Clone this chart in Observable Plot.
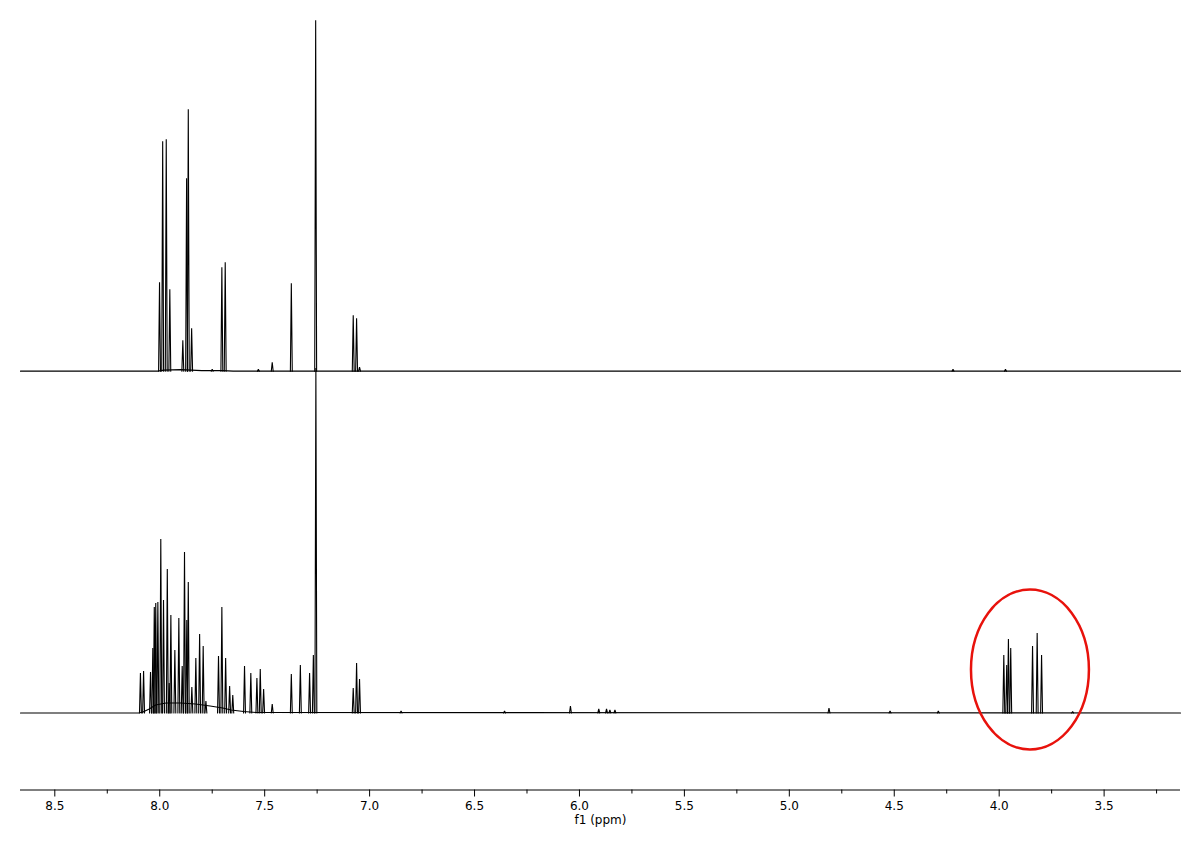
<!DOCTYPE html>
<html>
<head>
<meta charset="utf-8">
<script src="https://cdn.jsdelivr.net/npm/d3@7"></script>
<script src="https://cdn.jsdelivr.net/npm/@observablehq/plot@0.6"></script>
<style>
  body { margin: 0; background: #fff; }
  #chart svg { display: block; }
</style>
</head>
<body>
<div id="chart"></div>
<script>
// ---- Data (ppm, relative intensity) ----
// Upper trace: peak positions and heights
const topPpm    = [8.001, 7.986, 7.969, 7.952, 7.890, 7.872, 7.864, 7.848, 7.750, 7.704, 7.688, 7.530, 7.464, 7.373, 7.257, 7.078, 7.062, 7.048, 4.220, 3.970];
const topHeight = [89,    230,   232,   82,    31,    193,   262,   43,    2,     104,   109,   2,     9,     88,    351,   56,    53,    4,     2,     2];

// Upper trace baseline (slight rise under the aromatic multiplets)
const topBasePpm   = [8.6635, 8.01, 7.98, 7.90, 7.85, 7.80, 7.70, 7.65, 3.136];
const topBaseValue = [0,      0,    1,    1.5,  1,    0.5,  0.5,  0,    0];

// Lower trace: peak positions and heights
const bottomPpm = [8.092, 8.077, 8.044, 8.033, 8.026, 8.019, 8.009, 7.995, 7.982, 7.964, 7.955, 7.947, 7.928, 7.909, 7.893, 7.882, 7.871, 7.864, 7.847, 7.828, 7.810, 7.793, 7.780, 7.720, 7.704, 7.686, 7.667, 7.652, 7.596, 7.566, 7.537, 7.521, 7.505, 7.464, 7.373, 7.330, 7.286, 7.268, 7.256, 7.078, 7.062, 7.048, 6.850, 6.357, 6.043, 5.908, 5.871, 5.855, 5.831, 4.811, 4.520, 4.290, 3.978, 3.964, 3.956, 3.945, 3.841, 3.819, 3.798, 3.650];
const bottomHeight = [40,  42,    41,    65,    106,   110,   111,   174,   113,   144,   30,    98,    63,    95,    47,    161,   93,    131,   26,    55,    79,    67,    12,    57,    106,   55,    27,    18,    47,    40,    35,    44,    24,    9,     39,    48,    40,    58,    345,   25,    50,    34,    2,     2,     7,     4,     4,     3,     3,     5,     2,     2,     58,    48,    74,    65,    67,    80,    58,    1.5];

// Lower trace baseline (hump under the aromatic multiplets)
const bottomBasePpm   = [8.6635, 8.10, 8.08, 8.05, 8.02, 7.97, 7.90, 7.83, 7.76, 7.70, 7.66, 7.60, 7.54, 3.136];
const bottomBaseValue = [0,      0,    1,    4,    8,    10,   10,   9,    7,    5,    3,    1.5,  0.5,  0];

// Axis ticks
const majorTicks = [8.5, 8.0, 7.5, 7.0, 6.5, 6.0, 5.5, 5.0, 4.5, 4.0, 3.5];
const minorTicks = [8.25, 7.75, 7.25, 6.75, 6.25, 5.75, 5.25, 4.75, 4.25, 3.75, 3.25];
const axisLabel = "f1 (ppm)";

// Highlighted region (red ellipse) in data units
const highlight = { ppm: 3.851, value: 43, rxPpm: 0.281, ryValue: 80 };

// ---- Layout / style ----
const xDomain = [8.6635, 3.136];
const yDomain = [-77, 692.5];
const topOffset = 341.8;   // vertical stacking offset of the upper trace
const peakHalfWidth = 0.0045; // drawn line width of each peak at its base (ppm)
const ink = "#000";

// each peak drawn as a narrow line shape: base - apex - base
function peakShapes(ppm, height, base, trace) {
  const out = [];
  ppm.forEach((p, i) => {
    out.push({ id: trace + i, ppm: p + peakHalfWidth, v: base });
    out.push({ id: trace + i, ppm: p, v: base + height[i] });
    out.push({ id: trace + i, ppm: p - peakHalfWidth, v: base });
  });
  return out;
}
const topPeaks = peakShapes(topPpm, topHeight, topOffset, "t");
const bottomPeaks = peakShapes(bottomPpm, bottomHeight, 0, "b");
const topBase = topBasePpm.map((p, i) => ({ ppm: p, v: topOffset + topBaseValue[i] }));
const bottomBase = bottomBasePpm.map((p, i) => ({ ppm: p, v: bottomBaseValue[i] }));

const plot = Plot.plot({
  width: 1200,
  height: 847,
  marginLeft: 20,
  marginRight: 20,
  marginTop: 20,
  marginBottom: 57.5,
  style: { fontFamily: "DejaVu Sans, Verdana, sans-serif", fontSize: "12px", background: "#fff", color: "#000" },
  x: { domain: xDomain },
  y: { domain: yDomain, axis: null },
  marks: [
    // baselines
    Plot.line(topBase, { x: "ppm", y: "v", stroke: ink, strokeWidth: 1.2 }),
    Plot.line(bottomBase, { x: "ppm", y: "v", stroke: ink, strokeWidth: 1.2 }),
    // peaks
    Plot.line(topPeaks, { x: "ppm", y: "v", z: "id", stroke: ink, strokeWidth: 1.1, strokeLinejoin: "miter" }),
    Plot.line(bottomPeaks, { x: "ppm", y: "v", z: "id", stroke: ink, strokeWidth: 1.1, strokeLinejoin: "miter" }),
    // axis line
    Plot.ruleY([yDomain[0]], { stroke: ink, strokeWidth: 1 }),
    // axes
    Plot.axisX({ ticks: majorTicks, tickSize: 7, tickPadding: 4, tickFormat: d3.format(".1f"), label: null, stroke: ink }),
    Plot.axisX({ ticks: minorTicks, tickSize: 4, tickFormat: () => "", label: null, stroke: ink }),
    Plot.text([axisLabel], { frameAnchor: "bottom", lineAnchor: "top", dy: 25, text: d => d, fill: ink, fontSize: 12 })
  ]
});

// Red ellipse around the 3.8–4.0 ppm signals, positioned through the plot's scales
const sx = plot.scale("x"), sy = plot.scale("y");
const cx = sx.apply(highlight.ppm), cy = sy.apply(highlight.value);
const rx = Math.abs(sx.apply(highlight.ppm + highlight.rxPpm) - cx);
const ry = Math.abs(sy.apply(highlight.value + highlight.ryValue) - cy);
d3.select(plot).append("ellipse")
  .attr("cx", cx).attr("cy", cy).attr("rx", rx).attr("ry", ry)
  .attr("fill", "none").attr("stroke", "#e8120c").attr("stroke-width", 2.5);

document.getElementById("chart").appendChild(plot);
</script>
</body>
</html>
